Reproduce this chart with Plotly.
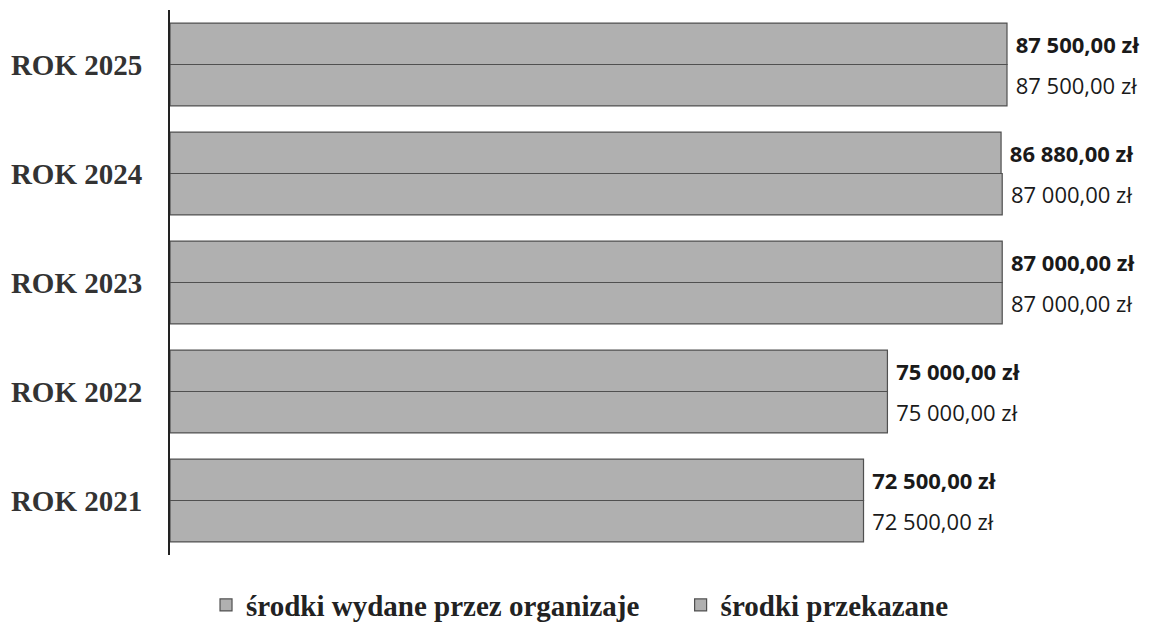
import plotly.graph_objects as go

categories = ["ROK 2021", "ROK 2022", "ROK 2023", "ROK 2024", "ROK 2025"]
przekazane = [72500, 75000, 87000, 87000, 87500]
wydane = [72500, 75000, 87000, 86880, 87500]
series_names = ["środki wydane przez organizaje", "środki przekazane"]


def fmt(v):
    s = f"{v:,.2f}".replace(",", " ").replace(".", ",")
    return s + " zł"


bar_fill = "#b0b0b0"
bar_line = "#505050"
label_font = dict(family="Open Sans", size=22, color="#1a1a1a")

fig = go.Figure()
fig.add_trace(go.Bar(
    y=categories, x=przekazane, orientation="h",
    name="<b>" + series_names[1] + "</b>",
    marker=dict(color=bar_fill, line=dict(color=bar_line, width=1.2)),
    text=[" " + fmt(v) for v in przekazane], textposition="outside",
    textfont=label_font, cliponaxis=False, textangle=0,
))
fig.add_trace(go.Bar(
    y=categories, x=wydane, orientation="h",
    name="<b>" + series_names[0] + "</b>&nbsp;&nbsp;&nbsp;&nbsp;&nbsp;",
    marker=dict(color=bar_fill, line=dict(color=bar_line, width=1.2)),
    text=[" <b>" + fmt(v) + "</b>" for v in wydane], textposition="outside",
    textfont=label_font, cliponaxis=False, textangle=0,
))

fig.update_layout(
    width=1159, height=626,
    font=dict(family="Liberation Serif", color="#222"),
    barmode="group", bargap=0.24, bargroupgap=0,
    plot_bgcolor="white", paper_bgcolor="white",
    margin=dict(l=162, r=9, t=2, b=79, autoexpand=False),
    xaxis=dict(range=[0, 103285], visible=False, showgrid=False,
               automargin=False),
    yaxis=dict(
        showline=True, linecolor="#222", linewidth=2, ticks="",
        tickfont=dict(family="Liberation Serif", size=29, color="#333"),
        ticklabelstandoff=20, showgrid=False, automargin=False,
        tickvals=categories,
        ticktext=["<b>" + c + "</b>" for c in categories],
    ),
    showlegend=True,
    legend=dict(
        orientation="h", x=0.415, xanchor="center", y=-0.045, yanchor="top",
        traceorder="reversed",
        font=dict(family="Liberation Serif", size=29, color="#222"),
    ),
)

fig.write_html("out.html")
